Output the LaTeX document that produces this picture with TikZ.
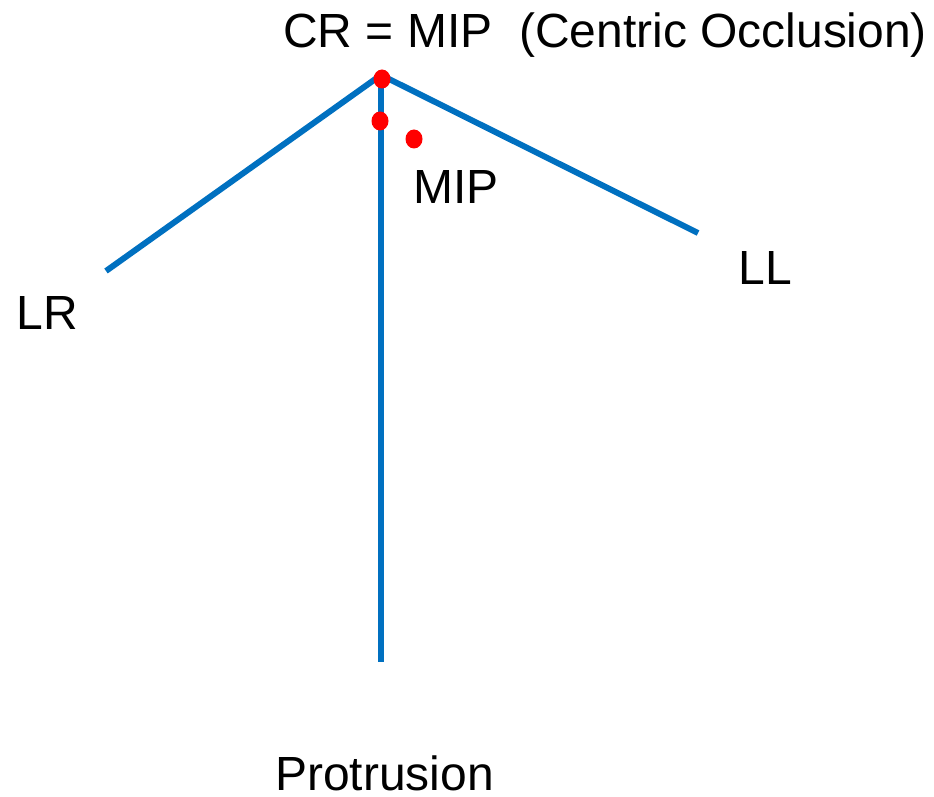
\documentclass[tikz,border=0pt]{standalone}
\usepackage{fontspec}
\setmainfont{Liberation Sans}
\definecolor{lineblue}{HTML}{0070C0}
\begin{document}
\begin{tikzpicture}[x=0.02cm,y=-0.02cm,
  limb/.style={draw=lineblue,line width=3.4pt},
  lbl/.style={inner sep=0pt,anchor=base west,text depth=0pt,font=\fontsize{27.3pt}{31pt}\selectfont}]
\useasboundingbox (0,0) rectangle (934,797);
\coordinate (apex) at (381,75);
\coordinate (lrend) at (106,271);
\coordinate (llend) at (698,233);
\coordinate (bottom) at (381,662);
\draw[limb] (lrend) -- (apex) -- (llend);
\draw[limb] (apex) -- (bottom);
\fill[red] (382,79) ellipse (8.5 and 9.5);
\fill[red] (380,121) ellipse (8.5 and 9.5);
\fill[red] (414,139) ellipse (8.5 and 9.5);
\node[lbl] (title) at (283,48) {CR = MIP\ \ (Centric Occlusion)};
\node[lbl] (mip) at (413,204) {MIP};
\node[lbl] (ll) at (738,285) {LL};
\node[lbl] (lr) at (16,330) {LR};
\node[lbl] (pro) at (275,790) {Protrusion};
\end{tikzpicture}
\end{document}
